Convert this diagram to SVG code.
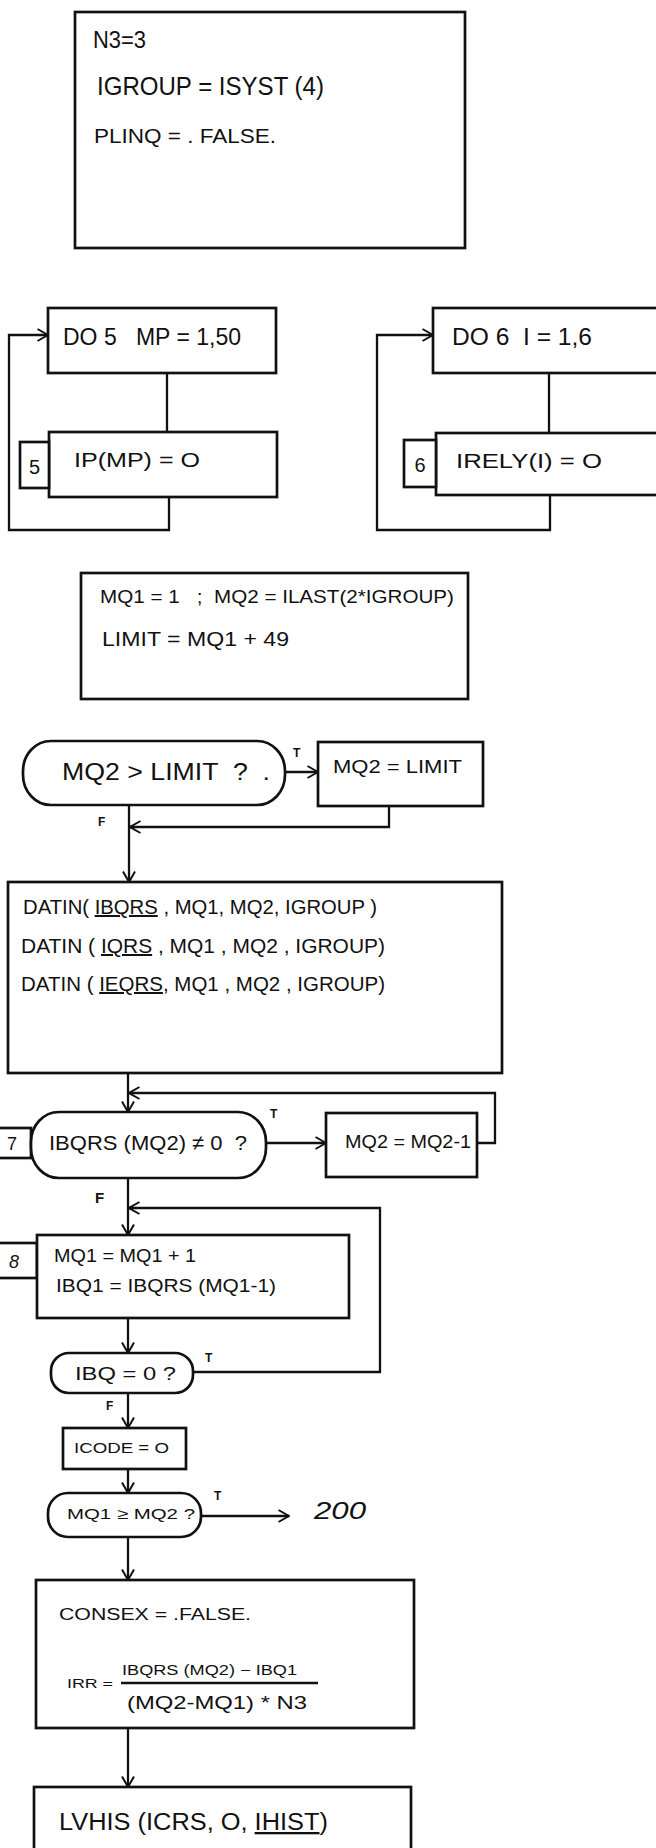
<svg xmlns="http://www.w3.org/2000/svg" width="656" height="1848" viewBox="0 0 656 1848">
<style>
.box{fill:#fff;stroke:#111;stroke-width:2.7}
.ln{fill:none;stroke:#111;stroke-width:2.3}
.t{font-family:"Liberation Sans",Arial,sans-serif;fill:#111;white-space:pre}
.lb{font-family:"Liberation Sans",Arial,sans-serif;fill:#111;font-size:12px;font-weight:bold}
.u{text-decoration:underline}
</style>
<defs>
<marker id="ah" viewBox="0 0 12 14" refX="11.5" refY="7" markerWidth="12" markerHeight="14" markerUnits="userSpaceOnUse" orient="auto">
<path d="M1,1 L11.5,7 L1,13" fill="none" stroke="#111" stroke-width="2"/>
</marker>
</defs>
<rect width="656" height="1848" fill="#fff"/>

<g id="connectors">
<path class="ln" d="M167,373 V432"/>
<path class="ln" d="M169,497 V530 H9 V335 H48" marker-end="url(#ah)"/>
<path class="ln" d="M549,373 V433"/>
<path class="ln" d="M550,495 V530 H377 V335 H433" marker-end="url(#ah)"/>
<path class="ln" d="M285,772 H318" marker-end="url(#ah)"/>
<path class="ln" d="M389,806 V827 H130" marker-end="url(#ah)"/>
<path class="ln" d="M129,805 V882" marker-end="url(#ah)"/>
<path class="ln" d="M128,1073 V1112" marker-end="url(#ah)"/>
<path class="ln" d="M477,1143 H495 V1093 H129" marker-end="url(#ah)"/>
<path class="ln" d="M266,1143 H326" marker-end="url(#ah)"/>
<path class="ln" d="M128,1178 V1235" marker-end="url(#ah)"/>
<path class="ln" d="M193,1372 H380 V1208 H129" marker-end="url(#ah)"/>
<path class="ln" d="M128,1318 V1353" marker-end="url(#ah)"/>
<path class="ln" d="M128,1393 V1428" marker-end="url(#ah)"/>
<path class="ln" d="M128,1469 V1493" marker-end="url(#ah)"/>
<path class="ln" d="M201,1516 H289" marker-end="url(#ah)"/>
<path class="ln" d="M128,1537 V1580" marker-end="url(#ah)"/>
<path class="ln" d="M128,1728 V1787" marker-end="url(#ah)"/>
<text class="lb" x="293" y="757">T</text>
<text class="lb" x="98" y="826">F</text>
<text class="lb" x="270" y="1118">T</text>
<text class="lb" x="95" y="1203" style="font-size:15px">F</text>
<text class="lb" x="205" y="1362">T</text>
<text class="lb" x="106" y="1410">F</text>
<text class="lb" x="214" y="1500">T</text>
</g>

<g id="init">
<rect class="box" x="75" y="12" width="390" height="236"/>
<text class="t" x="93" y="48" font-size="23" textLength="53" lengthAdjust="spacingAndGlyphs">N3=3</text>
<text class="t" x="97" y="95" font-size="25" textLength="227" lengthAdjust="spacingAndGlyphs">IGROUP = ISYST (4)</text>
<text class="t" x="94" y="143" font-size="20" textLength="182" lengthAdjust="spacingAndGlyphs">PLINQ = . FALSE.</text>
</g>

<g id="do5">
<rect class="box" x="48" y="308" width="228" height="65"/>
<text class="t" x="63" y="345" font-size="23" textLength="178" lengthAdjust="spacingAndGlyphs">DO 5   MP = 1,50</text>
</g>
<g id="ip5">
<rect class="box" x="49" y="432" width="228" height="65"/>
<rect class="box" x="20" y="442" width="29" height="46"/>
<text class="t" x="34.5" y="474" font-size="20" text-anchor="middle">5</text>
<text class="t" x="74" y="467" font-size="21" textLength="126" lengthAdjust="spacingAndGlyphs">IP(MP) = O</text>
</g>

<g id="do6">
<rect class="box" x="433" y="308" width="230" height="65"/>
<text class="t" x="452" y="345" font-size="23" textLength="140" lengthAdjust="spacingAndGlyphs">DO 6  I = 1,6</text>
</g>
<g id="irely">
<rect class="box" x="436" y="433" width="230" height="62"/>
<rect class="box" x="404" y="440" width="32" height="47"/>
<text class="t" x="420" y="472" font-size="20" text-anchor="middle">6</text>
<text class="t" x="456" y="468" font-size="21" textLength="146" lengthAdjust="spacingAndGlyphs">IRELY(I) = O</text>
</g>

<g id="mq1set">
<rect class="box" x="81" y="573" width="387" height="126"/>
<text class="t" x="100" y="603" font-size="19" textLength="354" lengthAdjust="spacingAndGlyphs">MQ1 = 1   ;  MQ2 = ILAST(2*IGROUP)</text>
<text class="t" x="102" y="646" font-size="21" textLength="187" lengthAdjust="spacingAndGlyphs">LIMIT = MQ1 + 49</text>
</g>

<g id="dec-limit">
<rect class="box" x="23" y="741" width="262" height="64" rx="28" ry="30"/>
<text class="t" x="62" y="780" font-size="23" textLength="208" lengthAdjust="spacingAndGlyphs">MQ2 &gt; LIMIT  ?  .</text>
</g>
<g id="set-limit">
<rect class="box" x="318" y="742" width="165" height="64"/>
<text class="t" x="333" y="773" font-size="19" textLength="129" lengthAdjust="spacingAndGlyphs">MQ2 = LIMIT</text>
</g>

<g id="datin">
<rect class="box" x="8" y="882" width="494" height="191"/>
<text class="t" x="23" y="914" font-size="20" textLength="354" lengthAdjust="spacingAndGlyphs">DATIN( <tspan class="u">IBQRS</tspan> , MQ1, MQ2, IGROUP )</text>
<text class="t" x="21" y="953" font-size="20" textLength="364" lengthAdjust="spacingAndGlyphs">DATIN ( <tspan class="u">IQRS</tspan> , MQ1 , MQ2 , IGROUP)</text>
<text class="t" x="21" y="991" font-size="20" textLength="364" lengthAdjust="spacingAndGlyphs">DATIN ( <tspan class="u">IEQRS</tspan>, MQ1 , MQ2 , IGROUP)</text>
</g>

<g id="dec-ibqrs">
<rect class="box" x="-3" y="1128" width="34" height="30"/>
<text class="t" x="7" y="1150" font-size="18">7</text>
<rect class="box" x="31" y="1112" width="235" height="66" rx="28" ry="30"/>
<text class="t" x="49" y="1150" font-size="21" textLength="198" lengthAdjust="spacingAndGlyphs">IBQRS (MQ2) ≠ 0  ?</text>
</g>
<g id="dec-mq2">
<rect class="box" x="326" y="1113" width="151" height="64"/>
<text class="t" x="345" y="1148" font-size="19" textLength="126" lengthAdjust="spacingAndGlyphs">MQ2 = MQ2-1</text>
</g>

<g id="inc-mq1">
<rect class="box" x="-3" y="1243" width="40" height="35"/>
<text class="t" x="9" y="1268" font-size="18" font-style="italic">8</text>
<rect class="box" x="37" y="1235" width="312" height="83"/>
<text class="t" x="54" y="1262" font-size="19" textLength="142" lengthAdjust="spacingAndGlyphs">MQ1 = MQ1 + 1</text>
<text class="t" x="56" y="1292" font-size="19" textLength="220" lengthAdjust="spacingAndGlyphs">IBQ1 = IBQRS (MQ1-1)</text>
</g>

<g id="dec-ibq">
<rect class="box" x="51" y="1353" width="142" height="40" rx="18" ry="18"/>
<text class="t" x="75" y="1380" font-size="19" textLength="101" lengthAdjust="spacingAndGlyphs">IBQ = 0 ?</text>
</g>

<g id="icode">
<rect class="box" x="63" y="1428" width="123" height="41"/>
<text class="t" x="74" y="1453" font-size="15" textLength="95" lengthAdjust="spacingAndGlyphs">ICODE = O</text>
</g>

<g id="dec-mq1mq2">
<rect class="box" x="48" y="1493" width="153" height="44" rx="20" ry="20"/>
<text class="t" x="67" y="1519" font-size="15" textLength="128" lengthAdjust="spacingAndGlyphs">MQ1 ≥ MQ2 ?</text>
</g>
<g id="goto200">
<text class="t" x="314" y="1519" font-size="23" font-style="italic" textLength="52" lengthAdjust="spacingAndGlyphs">200</text>
</g>

<g id="consex">
<rect class="box" x="36" y="1580" width="378" height="148"/>
<text class="t" x="59" y="1620" font-size="16" textLength="192" lengthAdjust="spacingAndGlyphs">CONSEX = .FALSE.</text>
<text class="t" x="67" y="1688" font-size="13" textLength="46" lengthAdjust="spacingAndGlyphs">IRR =</text>
<text class="t" x="122" y="1675" font-size="14" textLength="175" lengthAdjust="spacingAndGlyphs">IBQRS (MQ2) − IBQ1</text>
<path class="ln" d="M121,1683 H318"/>
<text class="t" x="127" y="1709" font-size="19" textLength="180" lengthAdjust="spacingAndGlyphs">(MQ2-MQ1) * N3</text>
</g>

<g id="lvhis">
<rect class="box" x="34" y="1787" width="377" height="70"/>
<text class="t" x="59" y="1830" font-size="23" textLength="269" lengthAdjust="spacingAndGlyphs">LVHIS (ICRS, O, <tspan class="u">IHIST</tspan>)</text>
</g>
</svg>
